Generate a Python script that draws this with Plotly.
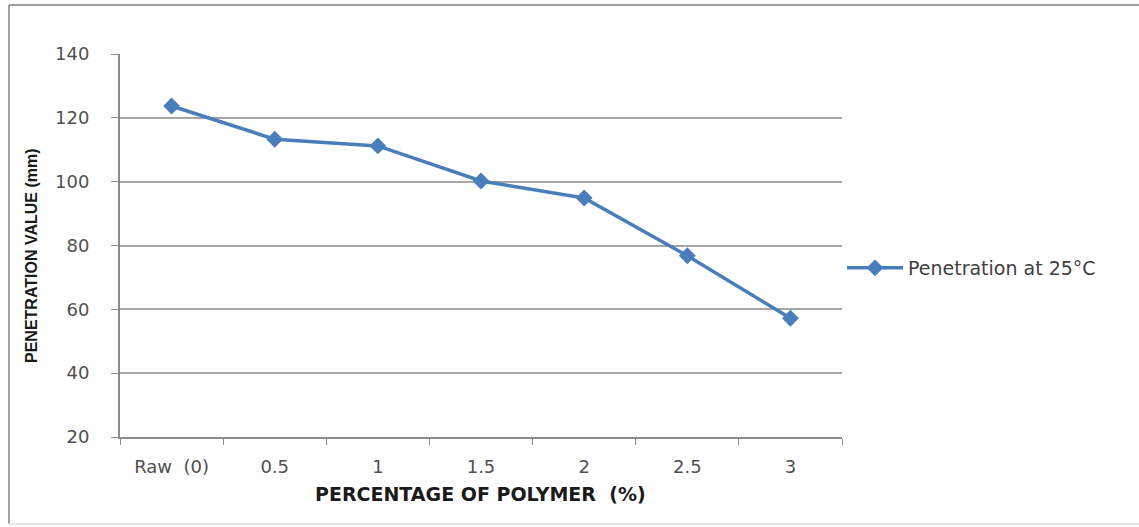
import plotly.graph_objects as go

categories = ["Raw  (0)", "0.5", "1", "1.5", "2", "2.5", "3"]
penetration = [123.7, 113.3, 111.2, 100.2, 94.9, 76.8, 57.2]
series_name = "Penetration at 25°C"
y_ticks = [20, 40, 60, 80, 100, 120, 140]
x_title = "PERCENTAGE OF POLYMER  (%)"
y_title = "PENETRATION VALUE (mm)"

W, H = 1139, 527
L, R, T, B = 120, 842, 54, 437

def px_x(p):
    return (p - L) / (R - L)

def px_y(p):
    return (B - p) / (B - T)

TICK_FONT = dict(family="DejaVu Sans, Verdana, sans-serif", size=18, color="#505050")

fig = go.Figure()
fig.add_trace(go.Scatter(
    x=categories, y=penetration, mode="lines+markers", name=series_name,
    line=dict(color="#4A7EBB", width=3.5),
    marker=dict(symbol="diamond", size=13, color="#4A7EBB"),
))

fig.update_layout(
    width=W, height=H,
    margin=dict(l=L, r=W - R, t=T, b=H - B),
    paper_bgcolor="white", plot_bgcolor="white",
    font=dict(family="DejaVu Sans, Verdana, sans-serif", color="#404040", size=16),
    showlegend=True,
    legend=dict(x=px_x(842), y=px_y(268), xanchor="left", yanchor="middle",
                itemwidth=56,
                font=dict(family="DejaVu Sans, Verdana, sans-serif", size=19, color="#404040"),
                bgcolor="rgba(0,0,0,0)"),
    xaxis=dict(
        type="category", range=[-0.5, 6.5],
        showgrid=False, showline=True, linecolor="#8C8C8C", linewidth=2,
        ticks="outside", tickson="boundaries", ticklen=6, tickcolor="#8C8C8C", tickwidth=1,
        tickfont=TICK_FONT, ticklabelstandoff=12,
    ),
    yaxis=dict(
        range=[20, 140], tickvals=y_ticks,
        showgrid=True, gridcolor="#A6A6A6", gridwidth=2,
        showline=True, linecolor="#8C8C8C", linewidth=2,
        ticks="outside", ticklen=7, tickcolor="#8C8C8C",
        tickfont=TICK_FONT, ticklabelstandoff=18,
        zeroline=False,
    ),
    annotations=[
        dict(text=x_title, xref="paper", yref="paper", x=px_x(480), y=px_y(494),
             xanchor="center", yanchor="middle", showarrow=False,
             font=dict(size=19, color="#1A1A1A", family="DejaVu Sans, Verdana, sans-serif",
                       weight="bold")),
        dict(text=y_title, xref="paper", yref="paper", x=px_x(31), y=px_y(256),
             xanchor="center", yanchor="middle", showarrow=False, textangle=-90,
             font=dict(size=16, color="#1A1A1A",
                       family="Liberation Sans Narrow, Liberation Sans, Arial, sans-serif",
                       weight="bold")),
    ],
)

# outer chart border (left, top, faint bottom)
fig.add_shape(type="line", xref="paper", yref="paper",
              x0=px_x(9), x1=px_x(9), y0=px_y(524), y1=px_y(5),
              line=dict(color="#A0A0A0", width=2), layer="below")
fig.add_shape(type="line", xref="paper", yref="paper",
              x0=px_x(9), x1=px_x(1160), y0=px_y(5), y1=px_y(5),
              line=dict(color="#A0A0A0", width=2), layer="below")
fig.add_shape(type="line", xref="paper", yref="paper",
              x0=px_x(9), x1=px_x(1160), y0=px_y(524), y1=px_y(524),
              line=dict(color="#E6E6E6", width=2), layer="below")

fig.write_html("out.html", config={"displayModeBar": False},
               post_script="document.body.style.margin='0';")
